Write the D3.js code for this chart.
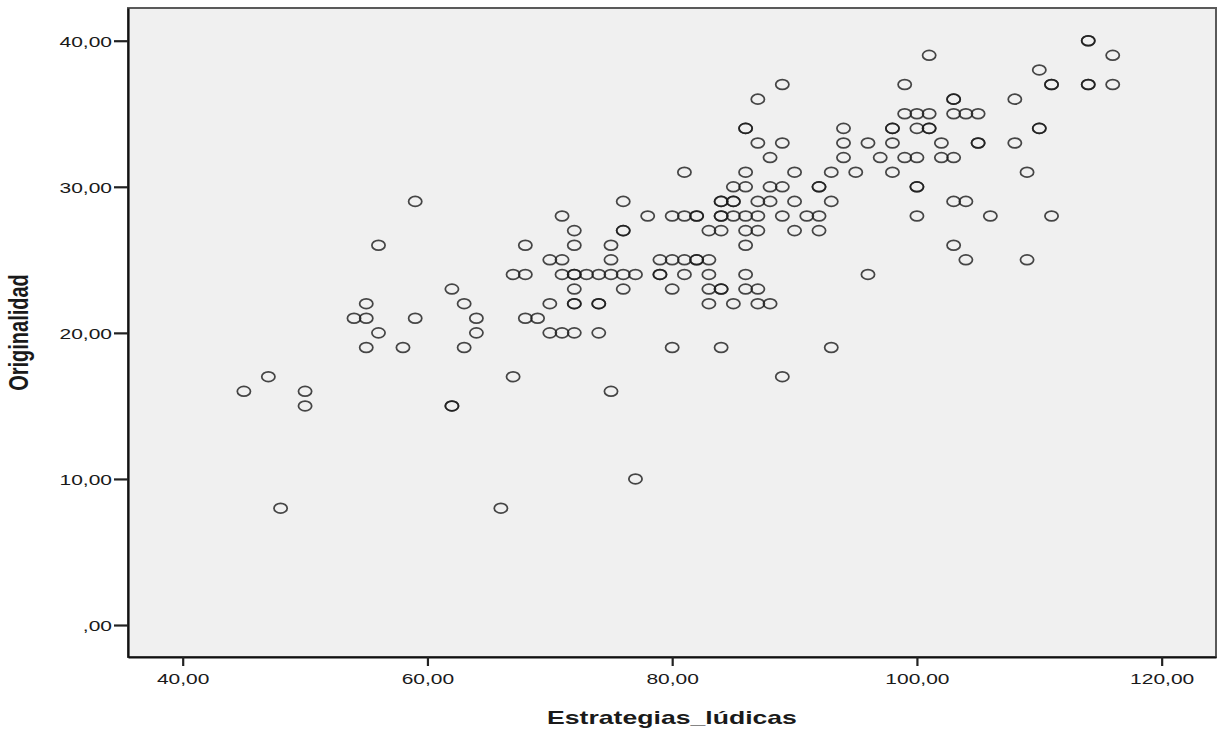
<!DOCTYPE html>
<html>
<head>
<meta charset="utf-8">
<script src="https://cdn.jsdelivr.net/npm/d3@7"></script>
<style>
  html, body { margin: 0; padding: 0; background: #ffffff; }
  svg { display: block; }
  text { font-family: Arial, "Liberation Sans", sans-serif; fill: #1a1a1a; }
</style>
</head>
<body>
<svg id="chart" width="1221" height="730"></svg>
<script>
// Scores per respondent (x = Estrategias_lúdicas, y = Originalidad).
// Repeated pairs are cases sharing the same scores.
const estrategias = [
  114,114,
  101,116,
  110,
  89,99,111,111,114,114,116,
  87,103,103,108,
  99,100,101,103,104,105,
  86,86,94,98,98,100,101,101,110,110,
  87,89,94,96,98,102,105,105,108,
  88,94,97,99,100,102,103,
  81,86,90,93,95,98,109,
  85,86,88,89,92,92,100,100,
  59,76,84,84,85,85,87,88,90,93,103,104,
  71,78,80,81,82,82,84,84,85,86,87,89,91,92,100,106,111,
  72,76,76,83,84,86,87,90,92,
  56,68,72,75,86,103,
  70,71,75,79,80,81,82,82,83,104,109,
  67,68,71,72,72,73,74,75,76,77,79,79,81,83,86,96,
  62,72,76,80,83,84,84,86,87,
  55,63,70,72,72,74,74,83,85,87,88,
  54,55,59,64,68,69,
  56,64,70,71,72,74,
  55,58,63,80,84,93,
  47,67,89,
  45,50,75,
  50,62,62,
  77,
  48,66
];
const originalidad = [
  40,40,
  39,39,
  38,
  37,37,37,37,37,37,37,
  36,36,36,36,
  35,35,35,35,35,35,
  34,34,34,34,34,34,34,34,34,34,
  33,33,33,33,33,33,33,33,33,
  32,32,32,32,32,32,32,
  31,31,31,31,31,31,31,
  30,30,30,30,30,30,30,30,
  29,29,29,29,29,29,29,29,29,29,29,29,
  28,28,28,28,28,28,28,28,28,28,28,28,28,28,28,28,28,
  27,27,27,27,27,27,27,27,27,
  26,26,26,26,26,26,
  25,25,25,25,25,25,25,25,25,25,25,
  24,24,24,24,24,24,24,24,24,24,24,24,24,24,24,24,
  23,23,23,23,23,23,23,23,23,
  22,22,22,22,22,22,22,22,22,22,22,
  21,21,21,21,21,21,
  20,20,20,20,20,20,
  19,19,19,19,19,19,
  17,17,17,
  16,16,16,
  15,15,15,
  10,
  8,8
];
const xTicks = [40, 60, 80, 100, 120];
const yTicks = [0, 10, 20, 30, 40];
const xTitle = "Estrategias_lúdicas";
const yTitle = "Originalidad";

const points = estrategias.map((v, i) => ({ x: v, y: originalidad[i] }));

const plot = { left: 128, right: 1216, top: 8, bottom: 657 };
const stretch = 1.4; // horizontal text widening used throughout

const x = d3.scaleLinear().domain([35.53, 124.44]).range([plot.left, plot.right]);
const y = d3.scaleLinear().domain([-2.19, 42.24]).range([plot.bottom, plot.top]);

const fmt = d => d === 0 ? ",00" : d.toFixed(2).replace(".", ",");

const svg = d3.select("#chart");

// plot background and frame
svg.append("rect")
  .attr("x", plot.left).attr("y", plot.top)
  .attr("width", plot.right - plot.left).attr("height", plot.bottom - plot.top)
  .attr("fill", "#f0f0f0")
  .attr("stroke", "#5a5a5a").attr("stroke-width", 2);

// points: open ellipses
svg.append("g").selectAll("ellipse")
  .data(points)
  .join("ellipse")
  .attr("cx", d => x(d.x))
  .attr("cy", d => y(d.y))
  .attr("rx", 6.6)
  .attr("ry", 4.9)
  .attr("fill", "none")
  .attr("stroke", "#1a1a1a")
  .attr("stroke-opacity", 0.8)
  .attr("stroke-width", 1.75);

// y axis
const gy = svg.append("g")
  .attr("transform", `translate(${plot.left},0)`)
  .call(d3.axisLeft(y).tickValues(yTicks).tickFormat(fmt).tickSize(14).tickSizeOuter(0));
gy.select(".domain").attr("stroke", "#111").attr("stroke-width", 2.2);
gy.selectAll(".tick line").attr("stroke", "#222").attr("stroke-width", 2.2);
gy.selectAll(".tick text")
  .attr("x", -16 / stretch)
  .attr("dy", "0.36em")
  .attr("transform", `scale(${stretch},1)`)
  .style("font-size", "15px")
  .style("fill", "#1a1a1a");

// x axis
const gx = svg.append("g")
  .attr("transform", `translate(0,${plot.bottom})`)
  .call(d3.axisBottom(x).tickValues(xTicks).tickFormat(fmt).tickSize(9).tickSizeOuter(0));
gx.select(".domain").attr("stroke", "#111").attr("stroke-width", 2.2);
gx.selectAll(".tick line").attr("stroke", "#222").attr("stroke-width", 2.2);
gx.selectAll(".tick text")
  .attr("y", 0)
  .attr("dy", 0)
  .attr("transform", `translate(0,27) scale(${stretch},1)`)
  .style("font-size", "15px")
  .style("fill", "#1a1a1a");

svg.selectAll(".tick text").style("font-family", 'Arial, "Liberation Sans", sans-serif');

// axis titles
svg.append("text")
  .attr("transform", `translate(${(plot.left + plot.right) / 2},724) scale(${stretch},1)`)
  .attr("text-anchor", "middle")
  .style("font-size", "19px")
  .style("font-weight", "bold")
  .text(xTitle);

svg.append("text")
  .attr("transform", `translate(28,${(plot.top + plot.bottom) / 2}) scale(${stretch},1) rotate(-90)`)
  .attr("text-anchor", "middle")
  .style("font-size", "20px")
  .style("font-weight", "bold")
  .text(yTitle);
</script>
</body>
</html>
